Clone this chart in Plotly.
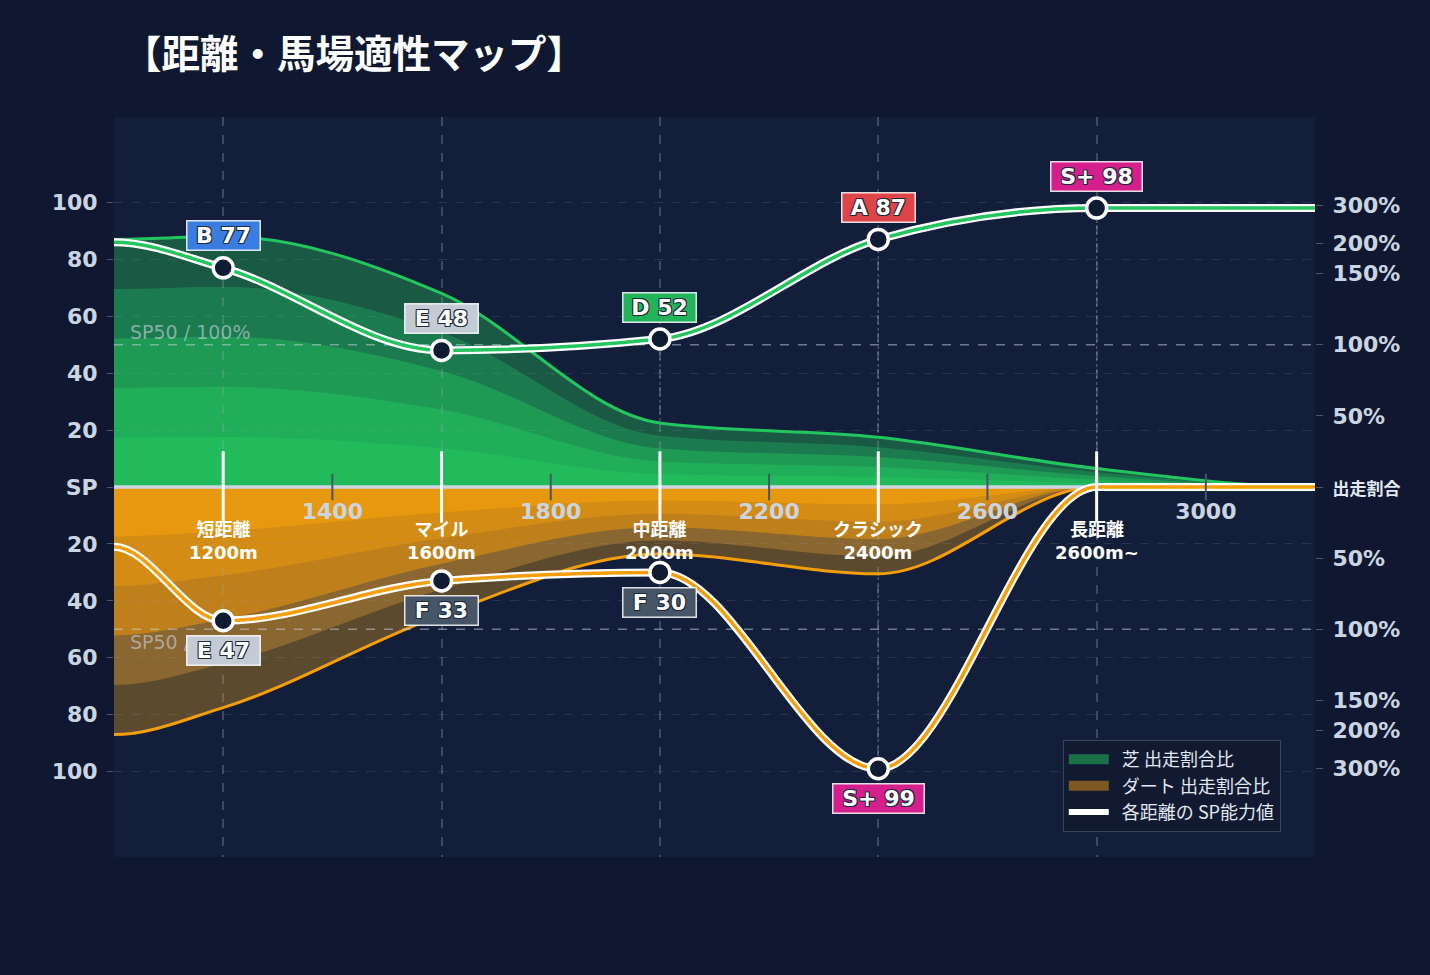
import numpy as np
import plotly.graph_objects as go

# ---------------- data ----------------
CURVE_X = [1000, 1200, 1600, 2000, 2400, 2800, 3200]
TURF_SHARE = [87, 88, 68, 22.5, 17.5, 6.5, 0]
DIRT_SHARE = [87, 77.5, 45, 23.5, 30.5, 0, 0]
TURF_SP_CURVE = [86, 77, 48, 52, 87, 98, 98]
DIRT_SP_CURVE = [21, 47, 33, 30, 99, 0, 0]

CAT_X = [1200, 1600, 2000, 2400, 2800]
CAT_NAME = ["短距離", "マイル", "中距離", "クラシック", "長距離"]
CAT_SUB = ["1200m", "1600m", "2000m", "2400m", "2600m~"]

TURF_SP = [77, 48, 52, 87, 98]
TURF_GRADE = ["B", "E", "D", "A", "S+"]
DIRT_X = [1200, 1600, 2000, 2400]
DIRT_SP = [47, 33, 30, 99]
DIRT_GRADE = ["E", "F", "F", "S+"]

X_TICKS = [1400, 1800, 2200, 2600, 3000]
SP_TICKS = [100, 80, 60, 40, 20]
RATIO_POS = [99, 85.5, 75, 50, 25]
RATIO_TEXT = ["300%", "200%", "150%", "100%", "50%"]
BAND_FRAC = [1.0, 0.8, 0.6, 0.4, 0.2]

# ---------------- style ----------------
FONT = "DejaVu Sans, Noto Sans CJK JP"
CJK = "Noto Sans CJK JP, DejaVu Sans"
TURF_BANDS = ["#1a5944", "#1c7a4f", "#1f9a55", "#21ae59", "#22bb5c"]
DIRT_BANDS = ["#5c4a2e", "#8a6630", "#bf801c", "#d48c14", "#e8980e"]
GREEN = "#22c55e"
ORANGE = "#f59e0b"
GRADE_BG = {"S+": "#d41f8c", "A": "#de4448", "B": "#3a7de0",
            "D": "#22b45a", "E": "#c3cbd5", "F": "#475569"}
OUTLINE = ("-1px -1px 0 #1e293b, 1px -1px 0 #1e293b, "
           "-1px 1px 0 #1e293b, 1px 1px 0 #1e293b")


def mono_tangents(x, y):
    # monotone cubic slopes, flat at both ends
    h = np.diff(x)
    s = np.diff(y) / h
    t = np.zeros(len(x))
    for i in range(1, len(x) - 1):
        p = (s[i - 1] * h[i] + s[i] * h[i - 1]) / (h[i - 1] + h[i])
        t[i] = (np.sign(s[i - 1]) + np.sign(s[i])) * min(abs(s[i - 1]), abs(s[i]), 0.5 * abs(p))
    return t


def curve_cmds(x, y):
    x = np.asarray(x, float)
    y = np.asarray(y, float)
    t = mono_tangents(x, y)
    out = []
    for i in range(len(x) - 1):
        dx = (x[i + 1] - x[i]) / 3
        out.append("C%.2f,%.3f %.2f,%.3f %.2f,%.3f" % (
            x[i] + dx, y[i] + dx * t[i], x[i + 1] - dx, y[i + 1] - dx * t[i + 1], x[i + 1], y[i + 1]))
    return " ".join(out)


def line_path(x, y):
    return "M%.2f,%.3f " % (x[0], y[0]) + curve_cmds(x, y)


def area_path(x, y):
    return ("M%.2f,0 L%.2f,%.3f " % (x[0], x[0], y[0]) + curve_cmds(x, y)
            + " L%.2f,0 Z" % x[-1])


turf_share = np.array(TURF_SHARE, float)
dirt_share = -np.array(DIRT_SHARE, float)
turf_sp = np.array(TURF_SP_CURVE, float)
dirt_sp = -np.array(DIRT_SP_CURVE, float)

shapes = []
# drop lines from each marker to the centre
for cx, v in zip(CAT_X, TURF_SP):
    shapes.append(dict(type="line", xref="x", yref="y", x0=cx, x1=cx, y0=0, y1=v, layer="below",
                       line=dict(color="rgba(203,213,225,0.35)", width=1.2, dash="dot")))
for cx, v in zip(DIRT_X, DIRT_SP):
    shapes.append(dict(type="line", xref="x", yref="y", x0=cx, x1=cx, y0=0, y1=-v, layer="below",
                       line=dict(color="rgba(203,213,225,0.35)", width=1.2, dash="dot")))

# share bands
for f, col in zip(BAND_FRAC, TURF_BANDS):
    shapes.append(dict(type="path", xref="x", yref="y", path=area_path(CURVE_X, turf_share * f),
                       fillcolor=col, line=dict(width=0), layer="below"))
for f, col in zip(BAND_FRAC, DIRT_BANDS):
    shapes.append(dict(type="path", xref="x", yref="y", path=area_path(CURVE_X, dirt_share * f),
                       fillcolor=col, line=dict(width=0), layer="below"))

# outer share lines
shapes.append(dict(type="path", xref="x", yref="y", path=line_path(CURVE_X, turf_share),
                   line=dict(color=GREEN, width=3), layer="between"))
shapes.append(dict(type="path", xref="x", yref="y", path=line_path(CURVE_X, dirt_share),
                   line=dict(color=ORANGE, width=3), layer="between"))

# SP50 reference lines
for v in (50, -50):
    shapes.append(dict(type="line", xref="x", yref="y", x0=CURVE_X[0], x1=CURVE_X[-1], y0=v, y1=v,
                       layer="between", line=dict(color="rgba(203,213,225,0.5)", width=1.5, dash="dash")))

# centre line
shapes.append(dict(type="line", xref="x", yref="y", x0=CURVE_X[0], x1=CURVE_X[-1], y0=0, y1=0,
                   layer="between", line=dict(color="#cbd5e1", width=3.5)))

# SP curves (white casing + coloured core)
for ys, col in ((turf_sp, GREEN), (dirt_sp, ORANGE)):
    p = line_path(CURVE_X, ys)
    shapes.append(dict(type="path", xref="x", yref="y", path=p, layer="between",
                       line=dict(color="white", width=8)))
    shapes.append(dict(type="path", xref="x", yref="y", path=p, layer="between",
                       line=dict(color=col, width=3.5)))

fig = go.Figure()

# legend entries
fig.add_trace(go.Scatter(x=[None], y=[None], name="&nbsp;&nbsp;芝 出走割合比", mode="lines",
                         line=dict(color="#1b7048", width=14)))
fig.add_trace(go.Scatter(x=[None], y=[None], name="&nbsp;&nbsp;ダート 出走割合比", mode="lines",
                         line=dict(color="#7d5822", width=14)))
fig.add_trace(go.Scatter(x=[None], y=[None], name="&nbsp;&nbsp;各距離の SP能力値", mode="lines",
                         line=dict(color="white", width=6)))

# axis tick marks on the centre line
fig.add_trace(go.Scatter(x=X_TICKS, y=[0] * len(X_TICKS), mode="markers", yaxis="y2",
                         marker=dict(symbol="line-ns", size=19, line=dict(color="#475569", width=2)),
                         showlegend=False, hoverinfo="skip"))
fig.add_trace(go.Scatter(x=CAT_X, y=[0] * len(CAT_X), mode="markers",
                         marker=dict(symbol="line-ns", size=51, line=dict(color="white", width=3)),
                         showlegend=False, hoverinfo="skip"))

# SP markers
for xs, ys in ((CAT_X, TURF_SP), (DIRT_X, [-v for v in DIRT_SP])):
    fig.add_trace(go.Scatter(x=xs, y=ys, mode="markers", showlegend=False,
                             marker=dict(size=20, color="#0f1a33", line=dict(color="white", width=3.5))))

annotations = []


def badge(x, y, grade, sp, shift):
    text = "%s %d" % (grade, sp)
    return dict(x=x, y=y, xref="x", yref="y", text="<b>%s</b>" % text, showarrow=False,
                yshift=shift, bgcolor=GRADE_BG[grade], bordercolor="rgba(255,255,255,0.85)",
                borderwidth=1.5, borderpad=2, width=18 * len(text) - 4, height=24,
                font=dict(size=22, color="white", family=FONT, shadow=OUTLINE))


for cx, v, g in zip(CAT_X, TURF_SP, TURF_GRADE):
    annotations.append(badge(cx, v, g, v, 32))

annotations.append(dict(x=CURVE_X[0], y=-50, xref="x", yref="y", text="SP50 / 100%", showarrow=False,
                        xanchor="left", yanchor="top", xshift=14,
                        font=dict(size=19, color="rgba(203,213,225,0.6)", family=FONT)))
for cx, v, g in zip(DIRT_X, DIRT_SP, DIRT_GRADE):
    annotations.append(badge(cx, -v, g, v, -30))

for cx, n, s in zip(CAT_X, CAT_NAME, CAT_SUB):
    annotations.append(dict(x=cx, y=0, xref="x", yref="y", text="<b>%s</b><br><b>%s</b>" % (n, s),
                            showarrow=False, yshift=-54, font=dict(size=18, color="white", family=FONT)))

annotations.append(dict(x=CURVE_X[0], y=50, xref="x", yref="y", text="SP50 / 100%", showarrow=False,
                        xanchor="left", yanchor="bottom", xshift=14,
                        font=dict(size=19, color="rgba(203,213,225,0.6)", family=FONT)))

left_vals = SP_TICKS + [0] + [-v for v in SP_TICKS[::-1]]
left_text = [str(v) for v in SP_TICKS] + ["SP"] + [str(v) for v in SP_TICKS[::-1]]
right_vals = RATIO_POS + [0] + [-v for v in RATIO_POS]
right_text = RATIO_TEXT + ["<span style='font-size:17px;color:#e2e8f0'>出走割合</span>"] + RATIO_TEXT

fig.update_layout(
    width=1430, height=975,
    paper_bgcolor="#0f1830", plot_bgcolor="#131f3a",
    margin=dict(l=114, r=115, t=117, b=118),
    font=dict(family=FONT, color="#cbd5e1"),
    title=dict(text="<b>【距離・馬場適性マップ】</b>", x=0.086, xanchor="left", y=0.944, yanchor="middle",
               font=dict(family=CJK, size=38.5, color="white")),
    shapes=shapes,
    annotations=annotations,
    legend=dict(x=0.79, y=0.158, xanchor="left", yanchor="top", bgcolor="#111a30",
                bordercolor="rgba(148,163,184,0.3)", borderwidth=1, itemwidth=40,
                font=dict(size=18, color="#e2e8f0", family=CJK)),
    xaxis=dict(range=[CURVE_X[0], CURVE_X[-1]], anchor="free", position=0.5,
               tickmode="array", tickvals=X_TICKS, ticks="", showgrid=False, zeroline=False,
               showline=False, ticklabelstandoff=9,
               tickfont=dict(size=22, color="#cbd5e1", weight="bold"),
               minor=dict(tickmode="array", tickvals=CAT_X, showgrid=True, ticks="",
                          gridcolor="rgba(148,163,184,0.32)", griddash="dash", gridwidth=1.5)),
    yaxis=dict(range=[-130, 130], tickmode="array", tickvals=left_vals, ticktext=left_text,
               showgrid=True, gridcolor="rgba(148,163,184,0.16)", griddash="dash", zeroline=False,
               ticks="outside", ticklen=6, tickcolor="rgba(148,163,184,0.45)", ticklabelstandoff=5,
               tickfont=dict(size=22, color="#cbd5e1", weight="bold")),
    yaxis2=dict(range=[-130, 130], overlaying="y", side="right", tickmode="array",
                tickvals=right_vals, ticktext=right_text, showgrid=False, zeroline=False,
                ticks="outside", ticklen=7, tickcolor="rgba(148,163,184,0.45)", ticklabelstandoff=5,
                tickfont=dict(size=22, color="#cbd5e1", weight="bold")),
)

fig.write_html("out.html", config={"displayModeBar": False},
               post_script="document.body.style.margin='0';document.body.style.overflow='hidden';")
